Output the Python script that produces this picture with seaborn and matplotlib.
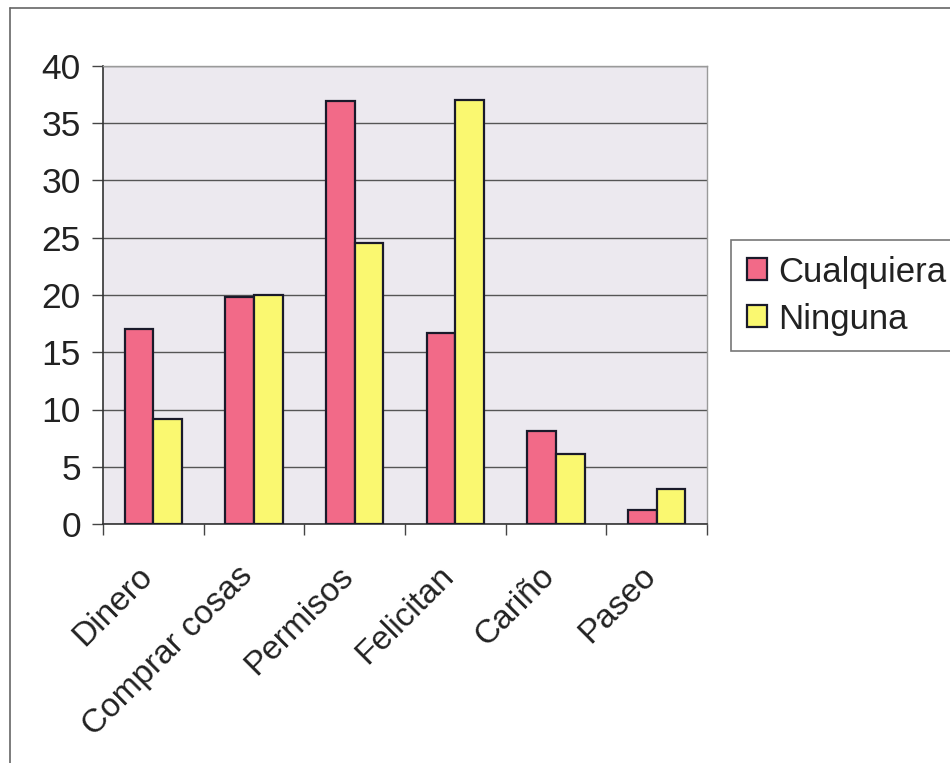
import matplotlib
matplotlib.use("Agg")
import matplotlib.pyplot as plt
import matplotlib.transforms as mtransforms
import seaborn as sns
import pandas as pd
from matplotlib.lines import Line2D

categories = ["Dinero", "Comprar cosas", "Permisos", "Felicitan", "Cariño", "Paseo"]
cualquiera = [17.0, 19.8, 36.9, 16.7, 8.1, 1.2]
ninguna = [9.2, 20.0, 24.5, 37.0, 6.1, 3.1]
series_names = ["Cualquiera", "Ninguna"]
yticks = [0, 5, 10, 15, 20, 25, 30, 35, 40]

df = pd.DataFrame({
    "cat": categories * 2,
    "val": cualquiera + ninguna,
    "serie": [series_names[0]] * len(categories) + [series_names[1]] * len(categories),
})

sns.set_style("white")
plt.rcParams["font.family"] = ["Liberation Sans", "DejaVu Sans"]
plt.rcParams["text.color"] = "#222222"
plt.rcParams["xtick.color"] = "#222222"
plt.rcParams["ytick.color"] = "#222222"

fig = plt.figure(figsize=(9.5, 7.63), dpi=100)
ax = fig.add_axes([103 / 950, 1 - 524 / 763, (707 - 103) / 950, (524 - 66) / 763])
ax.set_facecolor("#ECE9EF")

pink = "#F26A88"
yellow = "#FAF870"
sns.barplot(data=df, x="cat", y="val", hue="serie", order=categories,
            hue_order=series_names, palette=[pink, yellow], saturation=1, width=0.57,
            edgecolor="#1a1a2a", linewidth=1.6, ax=ax, legend=False, zorder=3)

ax.set_xlim(-0.5, len(categories) - 0.5)
ax.set_ylim(0, 40)
ax.set_yticks(yticks)
ax.set_yticklabels([str(t) for t in yticks], fontsize=25.5)
ax.yaxis.grid(True, color="#555555", linewidth=1.0, zorder=0)
ax.set_axisbelow(True)
ax.tick_params(axis="y", length=8, width=1.0, color="#444444", pad=8, left=True)

ax.set_xticks(range(len(categories)))
ax.set_xticklabels(categories, rotation=45, ha="right", va="center",
                   rotation_mode="anchor", fontsize=24)
ax.set_xticks([i - 0.5 for i in range(len(categories) + 1)], minor=True)
ax.tick_params(axis="x", which="major", length=0, pad=40)
ax.tick_params(axis="x", which="minor", length=8, width=1.0, color="#444444", bottom=True)
offset = mtransforms.ScaledTranslation(-6 / 100, 8 / 100, fig.dpi_scale_trans)
for lab in ax.get_xticklabels():
    lab.set_transform(lab.get_transform() + offset)
ax.set_xlabel("")
ax.set_ylabel("")

for s in ["left", "bottom"]:
    ax.spines[s].set_color("#333333")
    ax.spines[s].set_linewidth(1.2)
for s in ["top", "right"]:
    ax.spines[s].set_color("#9a9a9a")
    ax.spines[s].set_linewidth(1.0)

handles = [plt.Rectangle((0, 0), 1, 1, facecolor=c, edgecolor="#1a1a2a", linewidth=1.6)
           for c in [pink, yellow]]
leg = fig.legend(handles, series_names, loc="upper left",
                 bbox_to_anchor=(731 / 950, 1 - 240 / 763), bbox_transform=fig.transFigure,
                 fontsize=25, frameon=True, fancybox=False, handlelength=0.6,
                 handleheight=0.6, handletextpad=0.3, borderpad=0.45, labelspacing=0.4,
                 borderaxespad=0)
leg.get_frame().set_edgecolor("#555555")
leg.get_frame().set_linewidth(1.2)

# chart-area border (left and top only visible)
fig.add_artist(Line2D([10 / 950, 10 / 950], [0, 1 - 8 / 763], transform=fig.transFigure,
                      color="#666666", linewidth=1.2))
fig.add_artist(Line2D([10 / 950, 1], [1 - 8 / 763, 1 - 8 / 763], transform=fig.transFigure,
                      color="#666666", linewidth=1.2))

fig.savefig("out.png", dpi=100, facecolor="white")
